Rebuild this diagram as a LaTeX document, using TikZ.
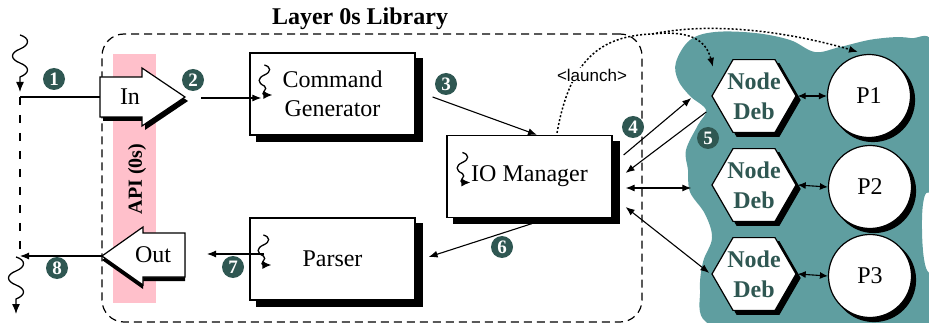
\documentclass[tikz,border=0pt]{standalone}
\usepackage{fontspec}
\setmainfont{Liberation Serif}
\newfontfamily\sansf{Liberation Sans}
\usetikzlibrary{arrows.meta,shadows,shapes.geometric,calc}
\definecolor{blobteal}{HTML}{5F9EA0}
\definecolor{badgecol}{HTML}{2F5752}
\definecolor{apipink}{HTML}{FFC0CB}
\begin{document}
\begin{tikzpicture}[x=1pt,y=-1pt,
  >={Latex[length=9pt,width=7pt]},
  conn/.style={line width=1.1pt},
  big/.style={font=\fontsize{24}{29}\selectfont},
  box/.style={draw, line width=1.2pt, fill=white, minimum width=165pt, minimum height=82pt,
    inner sep=0pt, align=center, big,
    copy shadow={shadow xshift=7pt, shadow yshift=-6pt, fill=black, draw=black}},
  hexa/.style={draw, line width=1.2pt, fill=white, regular polygon, regular polygon sides=6,
    minimum size=84pt, inner sep=0pt,
    copy shadow={shadow xshift=4pt, shadow yshift=-4pt, fill=black, draw=black}},
  hextext/.style={align=center, text=badgecol, font=\bfseries\fontsize{24}{30}\selectfont},
  proc/.style={draw, line width=1.2pt, fill=white, circle, minimum size=83pt, inner sep=0pt, big,
    copy shadow={shadow xshift=4pt, shadow yshift=-4pt, fill=black, draw=black}},
  badge/.style={circle, fill=badgecol, text=white, minimum size=22pt, inner sep=0pt,
    font=\bfseries\fontsize{19}{19}\selectfont},
  launch/.style={dash pattern=on 2pt off 2pt, line width=1.5pt, -{Latex[length=9pt,width=7pt]}},
  layerbox/.style={draw, dash pattern=on 8pt off 5pt, line width=1.2pt, rounded corners=22pt,
    minimum width=540pt, minimum height=288pt, inner sep=0pt},
  pics/thread/.style={code={
    \draw[line width=1.3pt, -{Latex[length=9pt,width=8pt]}] (0,0)
      .. controls (7,2) and (7,7) .. (0,10)
      .. controls (-7,13) and (-7,18) .. (0,21)
      .. controls (5,24) and (-6,29) .. (1,30)
      -- (8,30);}},
  pics/signal/.style={code={
    \draw[line width=1.3pt, -{Latex[length=10pt,width=8pt]}] (0,0)
      .. controls (10,3) and (10,10) .. (0,14)
      .. controls (-10,18) and (-10,24) .. (0,28)
      .. controls (10,32) and (10,38) .. (0,42)
      -- (0,57);}}
]
\useasboundingbox (0,0) rectangle (929,323);

% teal cloud
\begin{scope}
\clip (0,0) rectangle (929,323);
\fill[blobteal] plot[smooth cycle, tension=0.6] coordinates {
 (676,62) (690,40) (715,32) (755,33) (790,40) (815,52) (840,47) (875,39) (910,38) (935,50)
 (940,180) (925,195) (922,230) (926,268) (940,285) (940,335) (760,335) (706,322) (700,290)
 (703,262) (712,238) (705,214) (690,192) (688,170) (686,150) (698,125) (706,110) (690,96) (678,80)};
\end{scope}

% pink API band
\fill[apipink] (113,54) rectangle (156,303);
\node[rotate=90, font=\bfseries\fontsize{20}{24}\selectfont] (api) at (137,179) {API (0s)};

% layer box
\node[layerbox] (layer) at (372,178) {};
\node[font=\bfseries\fontsize{24}{29}\selectfont] (title) at (360,19) {Layer 0s Library};

% boxes
\node[box] (cg) at (332.5,94) {Command\\Generator};
\node[box] (parser) at (332.5,259) {Parser};
\node[box] (io) at (529.5,176.5) {IO Manager};

% node debuggers
\node[hexa] (h1) at (754,96) {};
\node[hexa] (h2) at (754,185) {};
\node[hexa] (h3) at (754,274) {};
\node[hextext] (t1) at (h1) {Node\\Deb};
\node[hextext] (t2) at (h2) {Node\\Deb};
\node[hextext] (t3) at (h3) {Node\\Deb};

% processes
\node[proc] (p1) at (869,96) {P1};
\node[proc] (p2) at (870,187) {P2};
\node[proc] (p3) at (870,276) {P3};

% In arrow
\coordinate (inL) at (100,97);
\coordinate (inTip) at (185,97);
\fill[black, shift={(3,4)}] (100,77) -- (142,77) -- (142,68) -- (185,97) -- (142,126) -- (142,117) -- (100,117) -- cycle;
\draw[line width=1.2pt, fill=white] (inL) |- (142,77) -- (142,68) -- (inTip) -- (142,126) -- (142,117) -- (100,117) -- cycle;
\node[big] (intext) at (130,97) {In};

% Out arrow
\coordinate (outTip) at (102,256);
\coordinate (outR) at (185,255);
\fill[black, shift={(0,4)}] (102,256) -- (143,227) -- (143,233) -- (185,233) -- (185,277) -- (143,277) -- (143,285) -- cycle;
\draw[line width=1.2pt, fill=white] (outTip) -- (143,227) -- (143,233) -- (185,233) -- (185,277) -- (143,277) -- (143,285) -- cycle;
\node[big] (outtext) at (153,255) {Out};

% external signal line
\coordinate (c1) at (20,97);
\coordinate (c8) at (20,256);
\draw[dash pattern=on 8pt off 10pt, line width=1.1pt] (c1) -- (c8);
\pic at (20,35) {signal};
\pic at (16,257) {signal};
\draw[conn] (c1) -- (inL);

% arrows
\draw[conn,->] ($(cg.west)+(-48,4)$) -- ($(cg.west)+(12,4)$);
\draw[conn,->] ($(cg.east)+(17,3)$) -- ($(io.north)+(7.5,0)$);
\draw[conn,->] ($(io.south)+(2.5,5.5)$) -- ($(parser.east)+(13,-2)$);
\draw[conn,->] ($(parser.west)+(15,-5)$) -- ($(outR)+(22,-1)$);
\draw[conn,->] (outTip) -- (c8);

% threads inside boxes
\pic at ($(cg.west)+(15,-29)$) {thread};
\pic at ($(io.west)+(16,-24)$) {thread};
\pic at ($(parser.west)+(14,-24)$) {thread};

% IO <-> node debuggers
\draw[conn,->] ($(io.east)+(11,-21.5)$) -- ($(h1.west)+(-20,2)$);
\draw[conn,->] ($(h1.west)+(-5,16)$) -- ($(io.east)+(13,-3.5)$);
\draw[conn,<->] ($(io.east)+(13,11.5)$) -- ($(h2.west)+(-20,3)$);
\draw[conn,<->] ($(io.east)+(13,30.5)$) -- ($(h3.west)+(-2,-1)$);

% node debugger <-> process
\foreach \i in {1,2,3}{
  \draw[conn,{Latex[length=8pt,width=7pt]}-{Latex[length=8pt,width=7pt]}] ($(h\i.east)+(1,0)$) -- (p\i.west);
}

% launch
\coordinate (lsplit) at (652,34);
\draw[launch, -] ($(io.north)+(27.5,-2)$) .. controls (570,60) and (600,36) .. (lsplit);
\draw[launch] (lsplit) .. controls (690,30) and (706,40) .. ($(h1.north west)+(-14,-2)$);
\draw[launch] (lsplit) .. controls (720,20) and (800,35) .. ($(p1.north)+(-11,-2)$);
\node[font=\sansf\fontsize{17}{20}\selectfont, fill=white, inner sep=1pt] (lab) at (592,75) {<launch>};

% badges
\node[badge] (b1) at (54,79) {1};
\node[badge] (b2) at (193,80) {2};
\node[badge] (b3) at (446,84) {3};
\node[badge] (b4) at (633,127) {4};
\node[badge] (b5) at (708,138) {5};
\node[badge] (b6) at (502,247) {6};
\node[badge] (b7) at (233,267) {7};
\node[badge] (b8) at (57,268) {8};
\end{tikzpicture}
\end{document}
